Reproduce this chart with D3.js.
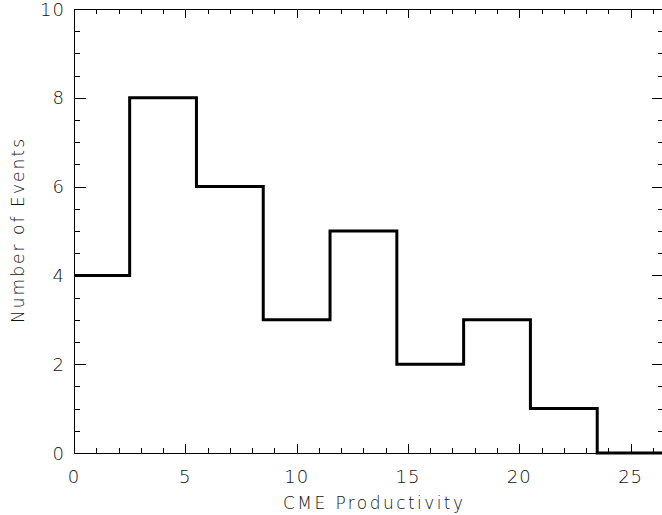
<!DOCTYPE html>
<html>
<head>
<meta charset="utf-8">
<script src="https://cdn.jsdelivr.net/npm/d3@7"></script>
<style>
  body { margin: 0; background: #fff; }
  text { font-family: "DejaVu Sans", "Liberation Sans", sans-serif; font-weight: 200; fill: #111; }
</style>
</head>
<body>
<div id="chart"></div>
<script>
// histogram bins (centre of each bin, width 3) and counts
const binCenters = [1, 4, 7, 10, 13, 16, 19, 22, 25];
const counts = [4, 8, 6, 3, 5, 2, 3, 1, 0];
const binWidth = 3;
const xTicks = [0, 5, 10, 15, 20, 25];
const yTicks = [0, 2, 4, 6, 8, 10];

const W = 662, H = 515;
const plotL = 74, plotT = 9, plotR = 664, plotB = 453;

const svg = d3.select("#chart").append("svg")
    .attr("width", W)
    .attr("height", H);

const x = d3.scaleLinear().domain([0, 26.5]).range([plotL, plotR]);
const y = d3.scaleLinear().domain([0, 10]).range([plotB, plotT]);

// step line, clipped to the plot box
svg.append("clipPath").attr("id", "clip")
    .append("rect")
    .attr("x", plotL).attr("y", plotT - 3)
    .attr("width", plotR - plotL).attr("height", plotB - plotT + 6);

const pts = [];
binCenters.forEach(function (c, i) {
    pts.push([c - binWidth / 2, counts[i]]);
    pts.push([c + binWidth / 2, counts[i]]);
});

svg.append("path")
    .attr("clip-path", "url(#clip)")
    .attr("d", d3.line().x(d => x(d[0])).y(d => y(d[1]))(pts))
    .attr("fill", "none")
    .attr("stroke", "#000")
    .attr("stroke-width", 3)
    .attr("stroke-linejoin", "miter");

// axes: IDL style, ticks inward on all four sides
const axisG = svg.append("g").attr("stroke", "#000").attr("stroke-width", 1);

axisG.append("rect")
    .attr("x", plotL + 0.5).attr("y", plotT + 0.5)
    .attr("width", plotR - plotL).attr("height", plotB - plotT)
    .attr("fill", "none");

const xMinor = d3.range(0, 27, 1);
const yMinor = d3.range(0, 10.01, 0.5);

xMinor.forEach(function (v) {
    const len = v % 5 === 0 ? 9 : 5;
    const px = Math.round(x(v)) + 0.5;
    axisG.append("line").attr("x1", px).attr("x2", px)
        .attr("y1", plotB).attr("y2", plotB - len);
    axisG.append("line").attr("x1", px).attr("x2", px)
        .attr("y1", plotT).attr("y2", plotT + len);
});

yMinor.forEach(function (v) {
    const len = v % 2 === 0 ? 12 : 6;
    const py = Math.round(y(v)) + 0.5;
    axisG.append("line").attr("y1", py).attr("y2", py)
        .attr("x1", plotL).attr("x2", plotL + len);
    axisG.append("line").attr("y1", py).attr("y2", py)
        .attr("x1", plotR).attr("x2", plotR - len);
});

// tick labels
svg.append("g").selectAll("text")
    .data(xTicks)
    .enter().append("text")
    .attr("x", d => x(d))
    .attr("y", 483)
    .attr("text-anchor", "middle")
    .attr("font-size", 18)
    .style("letter-spacing", "1px")
    .text(d => d);

svg.append("g").selectAll("text")
    .data(yTicks)
    .enter().append("text")
    .attr("x", 65)
    .attr("y", d => y(d) + 6.5)
    .attr("text-anchor", "end")
    .attr("font-size", 18)
    .style("letter-spacing", "1px")
    .text(d => d);

// axis titles
svg.append("text")
    .attr("x", 283)
    .attr("y", 509)
    .attr("font-size", 17)
    .attr("textLength", 180)
    .attr("lengthAdjust", "spacing")
    .text("CME Productivity");

svg.append("text")
    .attr("transform", "translate(24,323) rotate(-90)")
    .attr("font-size", 17)
    .attr("textLength", 184)
    .attr("lengthAdjust", "spacing")
    .text("Number of Events");
</script>
</body>
</html>
